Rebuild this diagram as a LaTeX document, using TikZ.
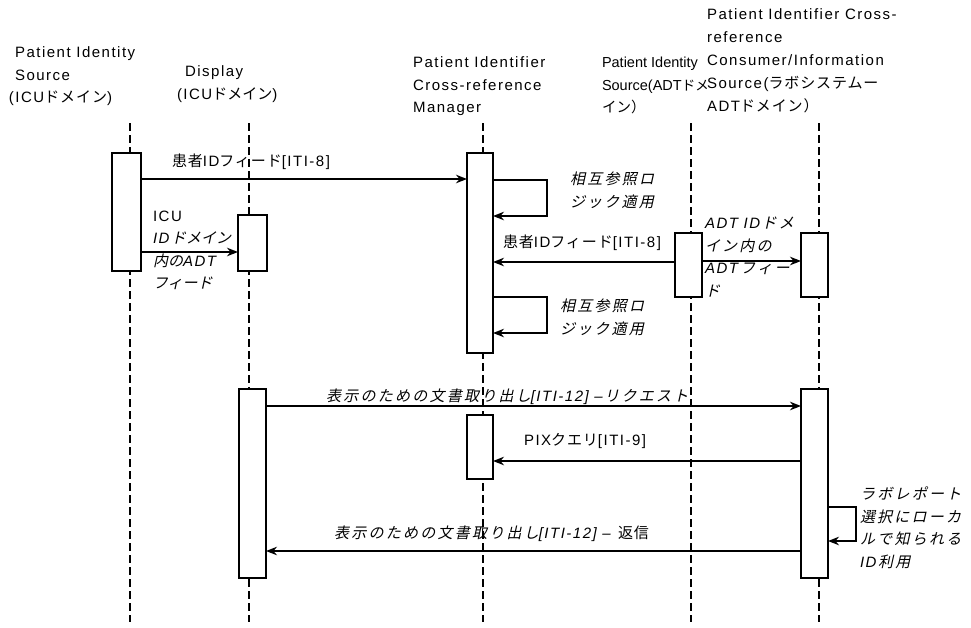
\documentclass[tikz,border=0pt]{standalone}
\usepackage{fontspec}
\setmainfont{Liberation Sans}[LetterSpace=10]
\newfontfamily\jpfont{Noto Sans CJK JP}[LetterSpace=6]
\newfontfamily\jpnarrow{Noto Sans CJK JP}
\newfontfamily\jpifont{Noto Sans CJK JP}[LetterSpace=15,FakeSlant=0.22]
\newfontfamily\jpitight{Noto Sans CJK JP}[FakeSlant=0.22]
\newcommand\jtx[1]{{\jpfont #1}}
\newcommand\jti[1]{{\jpifont #1}}
\newcommand\jtit[1]{{\jpitight #1}}
\newcommand\jtn[1]{{\jpnarrow #1}}
\usetikzlibrary{arrows.meta}
\begin{document}
\begin{tikzpicture}[x=1pt,y=-1pt,
  txt/.style={font=\fontsize{15}{22.5}\selectfont, inner sep=0pt, outer sep=0pt},
  hdr/.style={txt, align=left, anchor=north west},
  lifeline/.style={line width=2.8pt, dash pattern=on 8pt off 4pt},
  actbox/.style={draw, fill=white, line width=1.4pt, inner sep=0pt, outer sep=0pt, anchor=north west},
  msg/.style={line width=2.6pt, -{Stealth[length=11pt,width=8.5pt]}},
  thinmsg/.style={line width=1.3pt, -{Stealth[length=11pt,width=8.5pt]}},
]
\useasboundingbox (0,0) rectangle (971,627);

% headers
\node[hdr] (h1) at (15,47) {Patient Identity\\Source\\\hspace*{-6pt}(ICU\jtx{ドメイン})};
\node[hdr] (h2) at (177,66) {\hspace*{8pt}Display\\(ICU\jtn{ドメイン})};
\node[hdr] (h3) at (413,57) {Patient Identifier\\Cross-reference\\Manager};
\node[hdr, font=\fontsize{14.5}{22.5}\selectfont\addfontfeature{LetterSpace=0}] (h4) at (602,57)
  {Patient Identity\\Source(ADT{\fontsize{13.5}{22.5}\selectfont\jpnarrow ドメ}\\{\jpnarrow イン）}};
\node[hdr, font=\fontsize{15}{23}\selectfont] (h5) at (707,9) {Patient Identifier Cross-\\reference\\Consumer/Information\\Source(\jtx{ラボシステムー}\\ADT\jtx{ドメイン）}};

% lifelines
\coordinate (l1t) at (130,123); \coordinate (l1b) at (130,622);
\coordinate (l2t) at (249,123); \coordinate (l2b) at (249,622);
\coordinate (l3t) at (483,123); \coordinate (l3b) at (483,622);
\coordinate (l4t) at (691,123); \coordinate (l4b) at (691,622);
\coordinate (l5t) at (819,123); \coordinate (l5b) at (819,622);
\foreach \i in {1,...,5} \draw[lifeline] (l\i t) -- (l\i b);

% activation boxes
\node[actbox, minimum width=29pt, minimum height=118pt] (b1) at (112,153) {};
\node[actbox, minimum width=29pt, minimum height=56pt] (b2) at (238,215) {};
\node[actbox, minimum width=26pt, minimum height=200pt] (b3) at (467,153) {};
\node[actbox, minimum width=27pt, minimum height=64pt] (b4) at (675,233) {};
\node[actbox, minimum width=27pt, minimum height=64pt] (b5) at (801,233) {};
\node[actbox, minimum width=27pt, minimum height=189pt] (b6) at (239,389) {};
\node[actbox, minimum width=26pt, minimum height=64pt] (b7) at (467,415) {};
\node[actbox, minimum width=27pt, minimum height=189pt] (b8) at (801,389) {};

% messages
\draw[msg] (b1.east |- 0,179) -- (b3.west |- 0,179);
\node[txt, anchor=west] (t1) at (172,162) {\jtx{患者}ID\jtx{フィード}[ITI-8]};

\draw[msg] (b1.east |- 0,252) -- (b2.west |- 0,252);
\node[hdr] (t2) at (153,211) {ICU\\\textit{ID}\jtit{ドメイン}\\\jtit{内の}\textit{ADT}\\\jtit{フィード}};

\coordinate (s1a) at (547,180); \coordinate (s1b) at (547,216);
\draw[msg] (b3.east |- s1a) -- (s1a) -- (s1b) -- (b3.east |- s1b);
\node[hdr] (t3) at (570,172) {\jti{相互参照ロ}\\\jti{ジック適用}};

\draw[msg] (b4.west |- 0,262) -- (b3.east |- 0,262);
\node[txt, anchor=west] (t4) at (503,243) {\jtx{患者}ID\jtx{フィード}[ITI-8]};

\draw[msg] (b4.east |- 0,261) -- (b5.west |- 0,261);
\node[hdr] (t5) at (705,217) {\textit{ADT ID}\jti{ドメ}\\\jti{イン内の}\\\textit{ADT}\jti{フィー}\\\jti{ド}};

\coordinate (s2a) at (547,297); \coordinate (s2b) at (547,333);
\draw[msg] (b3.east |- s2a) -- (s2a) -- (s2b) -- (b3.east |- s2b);
\node[hdr] (t6) at (560,299) {\jti{相互参照ロ}\\\jti{ジック適用}};

\draw[msg, line width=2.2pt] (b6.east |- 0,406) -- (b8.west |- 0,406);
\node[txt, anchor=west] (t7) at (326,397) {\jti{表示のための文書取り出し}\textit{[ITI-12] –}\jti{リクエスト}};

\draw[msg, line width=2.2pt] (b8.west |- 0,461) -- (b7.east |- 0,461);
\node[txt, anchor=west] (t8) at (524,441) {PIX\jtx{クエリ}[ITI-9]};

\coordinate (s3a) at (856,507); \coordinate (s3b) at (856,541);
\draw[msg, line width=2pt] (b8.east |- s3a) -- (s3a) -- (s3b) -- (b8.east |- s3b);
\node[hdr] (t9) at (860,487) {\jti{ラボレポート}\\\jti{選択にローカ}\\\jti{ルで知られる}\\\textit{ID}\jti{利用}};

\draw[thinmsg] (b8.west |- 0,551) -- (b6.east |- 0,551);
\node[txt, anchor=west] (t10) at (334,534) {\jti{表示のための文書取り出し}\textit{[ITI-12] – }\jtx{返信}};
\end{tikzpicture}
\end{document}
